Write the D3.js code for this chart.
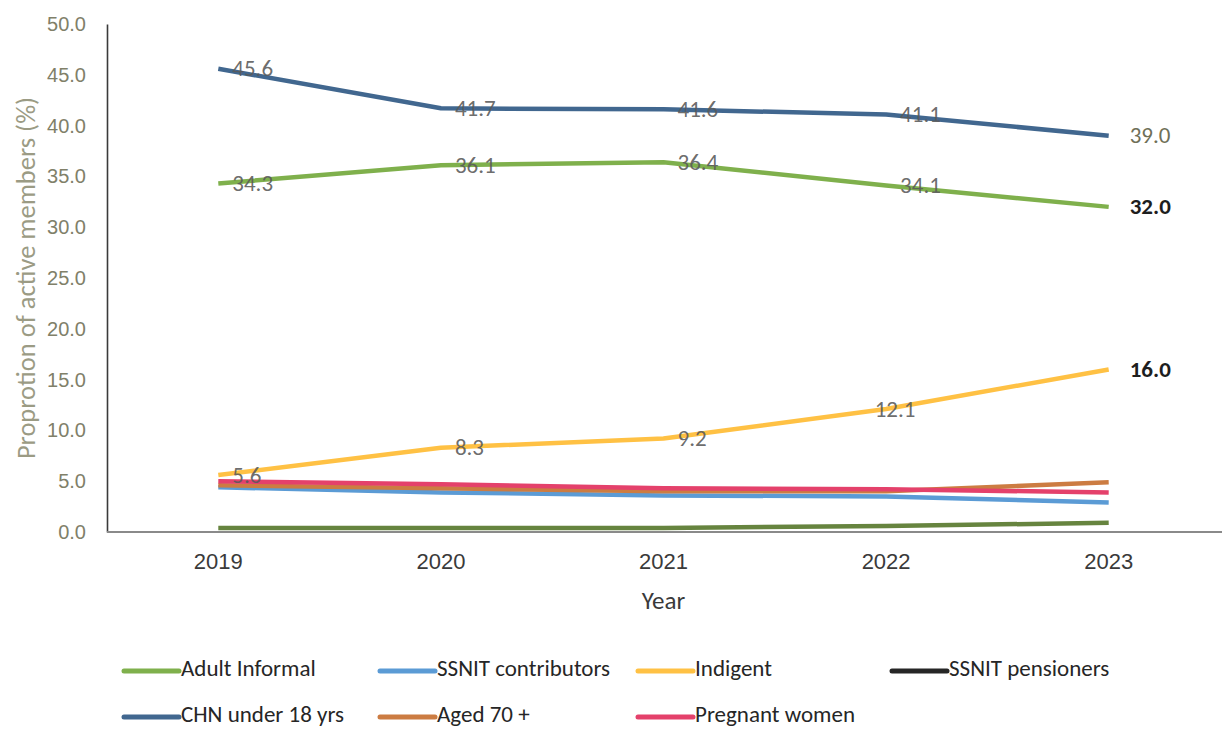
<!DOCTYPE html>
<html>
<head>
<meta charset="utf-8">
<script src="https://cdn.jsdelivr.net/npm/d3@7"></script>
<style>
  html, body { margin: 0; padding: 0; background: #ffffff; }
  svg { display: block; font-family: Carlito, Calibri, Lato, "Open Sans", sans-serif; }
</style>
</head>
<body>
<svg id="chart" width="1230" height="731"></svg>
<script>
// Years on the x axis
const years = ["2019", "2020", "2021", "2022", "2023"];

// Proportion of active members (%) per membership category
const adultInformal      = [34.3, 36.1, 36.4, 34.1, 32.0];
const ssnitContributors  = [4.4, 3.9, 3.6, 3.5, 2.9];
const indigent           = [5.6, 8.3, 9.2, 12.1, 16.0];
const ssnitPensioners    = [0.4, 0.4, 0.4, 0.6, 0.9];
const chnUnder18         = [45.6, 41.7, 41.6, 41.1, 39.0];
const aged70Plus         = [4.6, 4.3, 4.0, 4.0, 4.9];
const pregnantWomen      = [5.0, 4.7, 4.3, 4.2, 3.9];

// Y axis tick values
const yTicks = [0, 5, 10, 15, 20, 25, 30, 35, 40, 45, 50];

// Series definitions (legend order)
const seriesNames = ["Adult Informal", "SSNIT contributors", "Indigent", "SSNIT pensioners",
                     "CHN under 18 yrs", "Aged 70 +", "Pregnant women"];
const seriesValues = [adultInformal, ssnitContributors, indigent, ssnitPensioners,
                      chnUnder18, aged70Plus, pregnantWomen];
const lineColors = ["#7fb04c", "#5b9bd5", "#ffc144", "#66843f", "#41678f", "#cc7c42", "#e4416b"];
const legendColors = ["#7fb04c", "#5b9bd5", "#ffc144", "#262626", "#41678f", "#cc7c42", "#e4416b"];
// Series that carry value labels
const labelled = ["Adult Informal", "Indigent", "CHN under 18 yrs"];

const svg = d3.select("#chart");

const x = d3.scaleBand().domain(years).range([107, 1220]).padding(0);
const y = d3.scaleLinear().domain([0, 50]).range([532, 24]);
const cx = d => x(d) + x.bandwidth() / 2;

// Y axis: line and tick labels
const yAxis = d3.axisLeft(y).tickValues(yTicks).tickFormat(d3.format(".1f")).tickSize(0).tickPadding(21);
const gy = svg.append("g").attr("transform", "translate(107,0)").call(yAxis);
gy.select(".domain").attr("stroke", "#3a3a3a").attr("stroke-width", 1.6);
gy.selectAll("text").attr("fill", "#808069").attr("font-size", 20).attr("font-family", null);

// X axis: line and year labels
const xAxis = d3.axisBottom(x).tickSize(0).tickPadding(21);
const gx = svg.append("g").attr("transform", "translate(0,532)").call(xAxis);
gx.select(".domain").attr("stroke", "#8a8a8a").attr("stroke-width", 2)
  .attr("d", "M107,0H1222");
gx.selectAll("text").attr("fill", "#3a3a3a").attr("font-size", 22).attr("font-family", null);

// Axis titles
svg.append("text")
  .attr("x", cx("2021")).attr("y", 609)
  .attr("text-anchor", "middle").attr("fill", "#3a3a3a").attr("font-size", 25)
  .text("Year");
svg.append("text")
  .attr("transform", "translate(35,278) rotate(-90)")
  .attr("text-anchor", "middle").attr("fill", "#9b9b84").attr("font-size", 26.5)
  .text("Proprotion of active members (%)");

// Lines
const line = d3.line()
  .x((d, i) => cx(years[i]))
  .y(d => y(d))
  .curve(d3.curveLinear);

// Draw in an order so the small series stack like the original
const drawOrder = [3, 1, 5, 6, 2, 0, 4];
drawOrder.forEach(k => {
  svg.append("path")
    .datum(seriesValues[k])
    .attr("d", line)
    .attr("fill", "none")
    .attr("stroke", lineColors[k])
    .attr("stroke-width", 4.5)
    .attr("stroke-linejoin", "round")
    .attr("stroke-linecap", "butt");
});

// Value labels
labelled.forEach(name => {
  const k = seriesNames.indexOf(name);
  seriesValues[k].forEach((v, i) => {
    const last = i === years.length - 1;
    const centred = name === "Indigent" && years[i] === "2022";
    let fill = "#5a5a5a";
    if (last) fill = name === "CHN under 18 yrs" ? "#6f6f58" : "#1e1e1e";
    svg.append("text")
      .attr("x", cx(years[i]) + (centred ? 9 : (last ? 21 : 14)))
      .attr("y", y(v) + 2)
      .attr("dominant-baseline", "middle")
      .attr("text-anchor", centred ? "middle" : "start")
      .attr("fill", fill)
      .attr("fill-opacity", last ? 1 : 0.9)
      .attr("font-weight", last && name !== "CHN under 18 yrs" ? 600 : 400)
      .attr("font-size", 23)
      .text(d3.format(".1f")(v));
  });
});

// Legend: four items per row
const legendCols = [124, 380, 638, 892];
const legendRows = [671, 717];
const legend = svg.append("g");
seriesNames.forEach((name, k) => {
  const col = k % 4, row = Math.floor(k / 4);
  const lx = legendCols[col], ly = legendRows[row];
  legend.append("line")
    .attr("x1", lx).attr("x2", lx + 55).attr("y1", ly).attr("y2", ly)
    .attr("stroke", legendColors[k]).attr("stroke-width", 5).attr("stroke-linecap", "round");
  legend.append("text")
    .attr("x", lx + 57).attr("y", ly).attr("dominant-baseline", "middle")
    .attr("fill", "#262626").attr("font-size", 23)
    .text(name);
});
</script>
</body>
</html>
